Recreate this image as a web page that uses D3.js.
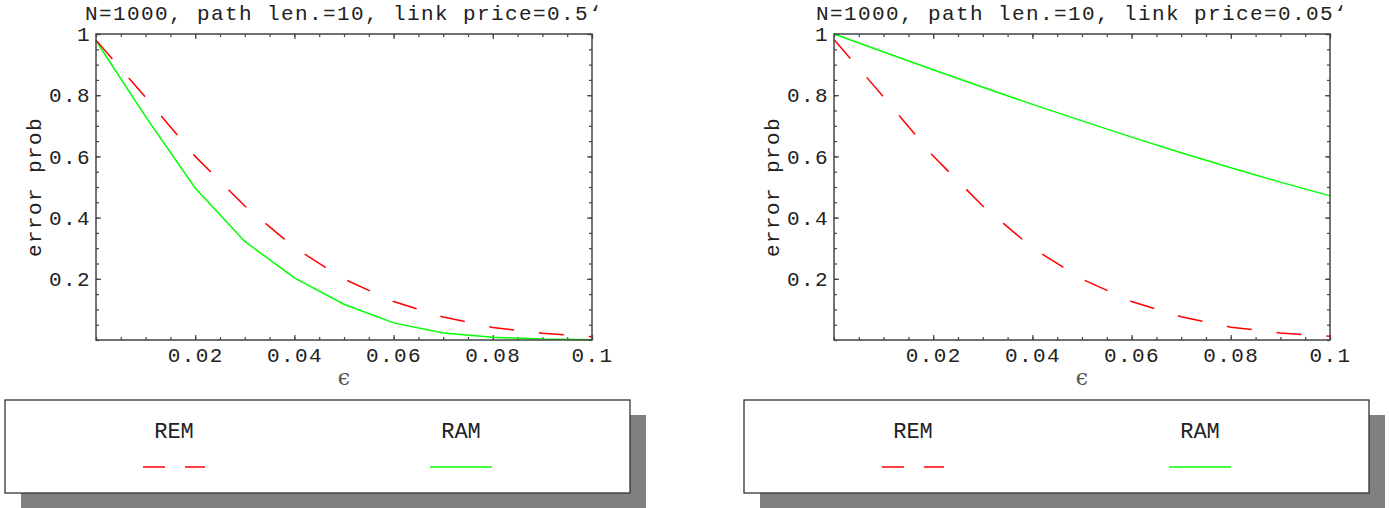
<!DOCTYPE html>
<html>
<head>
<meta charset="utf-8">
<script src="https://cdn.jsdelivr.net/npm/d3@7"></script>
<style>
  body { margin: 0; background: #fff; }
  text { font-family: "Liberation Mono", monospace; }
</style>
</head>
<body>
<script>
// sample points (epsilon) and the error probabilities
const eps = [0, 0.01, 0.02, 0.03, 0.04, 0.05, 0.06, 0.07, 0.08, 0.09, 0.1]
const remA = [0.98, 0.793, 0.60, 0.438, 0.302, 0.199, 0.126, 0.075, 0.041, 0.022, 0.011]
const ramA = [0.978, 0.73, 0.497, 0.322, 0.203, 0.117, 0.056, 0.023, 0.009, 0.003, 0.001]
const remB = [0.982, 0.794, 0.601, 0.438, 0.301, 0.199, 0.126, 0.076, 0.042, 0.023, 0.012]
const ramB = [1.0, 0.941, 0.883, 0.826, 0.770, 0.716, 0.663, 0.612, 0.563, 0.516, 0.471]

const titles = ["N=1000, path len.=10, link price=0.5\u2018", "N=1000, path len.=10, link price=0.05\u2018"]
const seriesNames = ["REM", "RAM"]
const xTicks = [0.02, 0.04, 0.06, 0.08, 0.1]
const xMinor = d3.range(0, 21).map(i => i * 0.005)
const yTicks = [0.2, 0.4, 0.6, 0.8, 1]
const yMinor = d3.range(0, 21).map(i => i * 0.05)

const W = 1389, H = 508
const svg = d3.select("body").append("svg")
  .attr("width", W)
  .attr("height", H)

let panels = [
  { left: 96, right: 592, rem: remA, ram: ramA, title: titles[0], lx: 5 },
  { left: 834, right: 1330, rem: remB, ram: ramB, title: titles[1], lx: 744 }
]
const plotTop = 34, plotBottom = 340

let fmt = d => String(+d.toFixed(3))

let styleText = (sel, size) => {
  sel.selectAll("text")
    .attr("fill", "#222")
    .style("font-family", '"Liberation Mono", monospace')
    .style("font-size", size + "px")
    .style("letter-spacing", "1.4px")
}

panels.forEach(p => {
  let x = d3.scaleLinear().domain([0, 0.1]).range([p.left, p.right])
  let y = d3.scaleLinear().domain([0, 1]).range([plotBottom, plotTop])
  let g = svg.append("g")

  // minor ticks on all four sides
  g.append("g").attr("transform", `translate(0,${plotBottom})`)
    .call(d3.axisBottom(x).tickValues(xMinor).tickSize(-3).tickFormat(""))
  g.append("g").attr("transform", `translate(0,${plotTop})`)
    .call(d3.axisTop(x).tickValues(xMinor).tickSize(-3).tickFormat(""))
  g.append("g").attr("transform", `translate(${p.left},0)`)
    .call(d3.axisLeft(y).tickValues(yMinor).tickSize(-3).tickFormat(""))
  g.append("g").attr("transform", `translate(${p.right},0)`)
    .call(d3.axisRight(y).tickValues(yMinor).tickSize(-3).tickFormat(""))

  // major ticks
  let bx = g.append("g").attr("transform", `translate(0,${plotBottom})`)
    .call(d3.axisBottom(x).tickValues(xTicks).tickSize(-5).tickPadding(7).tickFormat(fmt))
  let ly = g.append("g").attr("transform", `translate(${p.left},0)`)
    .call(d3.axisLeft(y).tickValues(yTicks).tickSize(-5).tickPadding(5).tickFormat(fmt))
  g.append("g").attr("transform", `translate(0,${plotTop})`)
    .call(d3.axisTop(x).tickValues(xTicks).tickSize(-5).tickFormat(""))
  g.append("g").attr("transform", `translate(${p.right},0)`)
    .call(d3.axisRight(y).tickValues(yTicks).tickSize(-5).tickFormat(""))

  styleText(bx, 21)
  styleText(ly, 21)
  g.selectAll(".domain").remove()
  g.selectAll(".tick line").attr("stroke", "#444").attr("stroke-width", 1.2)

  // curves
  let line = vals => d3.line()
    .x((d, i) => x(eps[i]))
    .y(d => y(d))(vals)

  g.append("path")
    .attr("d", line(p.ram))
    .attr("fill", "none")
    .attr("stroke", "#00ff00")
    .attr("stroke-width", 1.5)

  g.append("path")
    .attr("d", line(p.rem))
    .attr("fill", "none")
    .attr("stroke", "#ff0000")
    .attr("stroke-width", 1.5)
    .attr("stroke-dasharray", "25,25")

  // frame
  g.append("rect")
    .attr("x", p.left).attr("y", plotTop)
    .attr("width", p.right - p.left).attr("height", plotBottom - plotTop)
    .attr("fill", "none")
    .attr("stroke", "#444")
    .attr("stroke-width", 1.5)

  // title and axis labels
  let mid = (p.left + p.right) / 2
  g.append("text")
    .attr("x", mid).attr("y", 20)
    .attr("text-anchor", "middle")
    .attr("fill", "#222")
    .style("font-size", "21px")
    .style("letter-spacing", "1.4px")
    .text(p.title)

  g.append("text")
    .attr("transform", `translate(${p.left - 55},${(plotTop + plotBottom) / 2}) rotate(-90)`)
    .attr("text-anchor", "middle")
    .attr("fill", "#222")
    .style("font-size", "21px")
    .style("letter-spacing", "1.4px")
    .text("error prob")

  g.append("text")
    .attr("x", mid).attr("y", 385)
    .attr("text-anchor", "middle")
    .attr("fill", "#555")
    .style("font-family", '"DejaVu Serif", serif')
    .style("font-size", "22px")
    .text("\u03f5")

  // legend box with drop shadow
  let lw = 625, lh = 93, ly0 = 400
  g.append("rect")
    .attr("x", p.lx + 16).attr("y", ly0 + 15)
    .attr("width", lw).attr("height", lh)
    .attr("fill", "#808080")
  g.append("rect")
    .attr("x", p.lx).attr("y", ly0)
    .attr("width", lw).attr("height", lh)
    .attr("fill", "#fff")
    .attr("stroke", "#333")
    .attr("stroke-width", 1.3)

  let entries = [
    { name: seriesNames[0], cx: p.lx + 169, color: "#ff0000", dash: "22,20" },
    { name: seriesNames[1], cx: p.lx + 456, color: "#00ff00", dash: null }
  ]
  entries.forEach(e => {
    g.append("text")
      .attr("x", e.cx).attr("y", 438)
      .attr("text-anchor", "middle")
      .attr("fill", "#222")
      .style("font-size", "22px")
      .text(e.name)
    g.append("line")
      .attr("x1", e.cx - 31).attr("x2", e.cx + 31)
      .attr("y1", 467).attr("y2", 467)
      .attr("stroke", e.color)
      .attr("stroke-width", 1.6)
      .attr("stroke-dasharray", e.dash)
  })
})
</script>
</body>
</html>
